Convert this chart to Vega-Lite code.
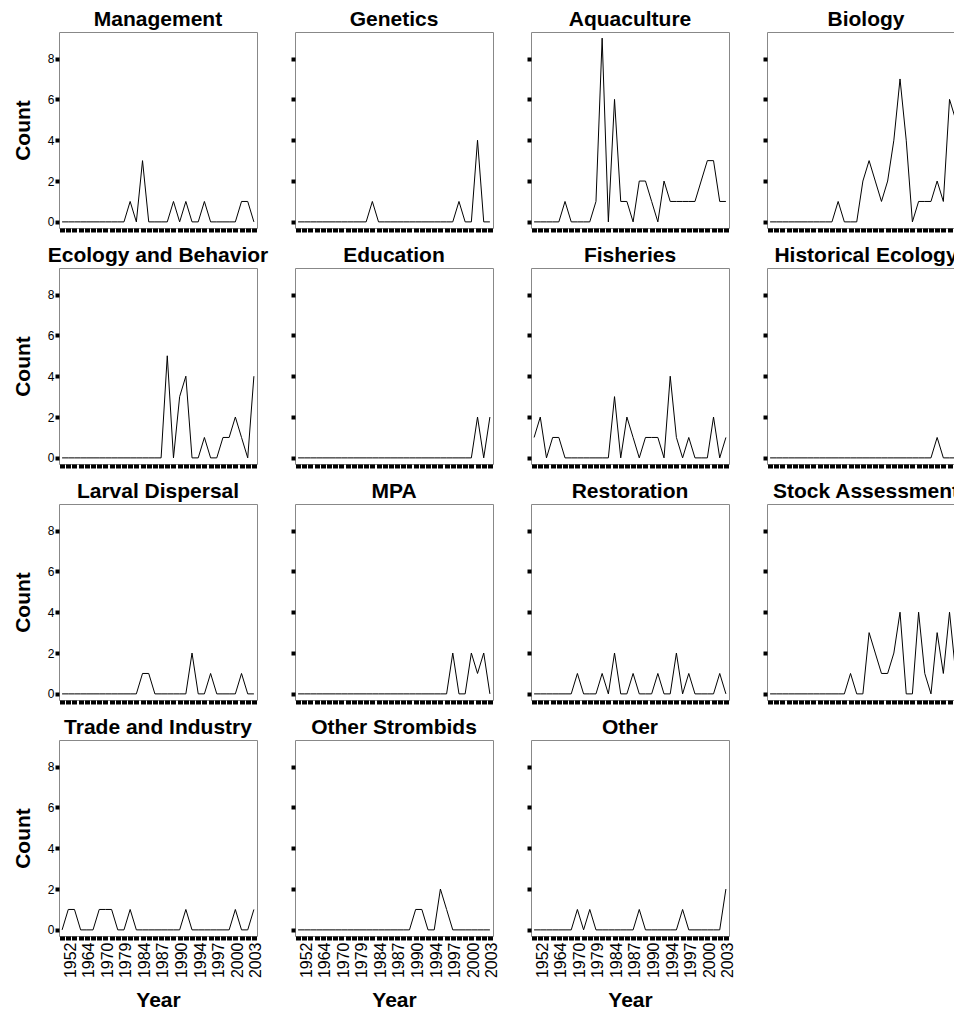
{
"$schema": "https://vega.github.io/schema/vega-lite/v6.json",
"padding": {"left": 11, "top": 8, "right": 0, "bottom": 0},
"background": "white",
"config": {
  "font": "Liberation Sans",
  "view": {"stroke": "#888888", "strokeWidth": 1},
  "title": {"font": "Liberation Sans", "fontSize": 21, "fontWeight": "bold", "color": "black", "offset": 2, "anchor": "middle"},
  "axisX": {"domain": false, "grid": false, "ticks": true, "tickColor": "black", "tickSize": 4, "tickWidth": 5, "labels": false, "labelAngle": -90, "labelBaseline": "top", "labelFont": "Liberation Sans", "labelFontSize": 16, "labelColor": "black", "labelPadding": 2, "titleFont": "Liberation Sans", "titleFontSize": 21, "titleFontWeight": "bold", "titleColor": "black", "titlePadding": 12},
  "axisY": {"domain": false, "grid": false, "ticks": true, "tickColor": "black", "tickSize": 4, "tickWidth": 4, "labels": false, "labelFont": "Liberation Sans", "labelFontSize": 12, "labelColor": "black", "labelPadding": 1, "titleFont": "Liberation Sans", "titleFontSize": 21, "titleFontWeight": "bold", "titleColor": "black", "titlePadding": 14}
},
"datasets": {
"Management": [{"year":"1952","n":0},{"year":"1958","n":0},{"year":"1962","n":0},{"year":"1964","n":0},{"year":"1966","n":0},{"year":"1968","n":0},{"year":"1970","n":0},{"year":"1972","n":0},{"year":"1976","n":0},{"year":"1979","n":0},{"year":"1981","n":0},{"year":"1983","n":1},{"year":"1984","n":0},{"year":"1985","n":3},{"year":"1986","n":0},{"year":"1987","n":0},{"year":"1988","n":0},{"year":"1989","n":0},{"year":"1990","n":1},{"year":"1991","n":0},{"year":"1993","n":1},{"year":"1994","n":0},{"year":"1995","n":0},{"year":"1996","n":1},{"year":"1997","n":0},{"year":"1998","n":0},{"year":"1999","n":0},{"year":"2000","n":0},{"year":"2001","n":0},{"year":"2002","n":1},{"year":"2003","n":1},{"year":"2004","n":0}],
"Genetics": [{"year":"1952","n":0},{"year":"1958","n":0},{"year":"1962","n":0},{"year":"1964","n":0},{"year":"1966","n":0},{"year":"1968","n":0},{"year":"1970","n":0},{"year":"1972","n":0},{"year":"1976","n":0},{"year":"1979","n":0},{"year":"1981","n":0},{"year":"1983","n":0},{"year":"1984","n":1},{"year":"1985","n":0},{"year":"1986","n":0},{"year":"1987","n":0},{"year":"1988","n":0},{"year":"1989","n":0},{"year":"1990","n":0},{"year":"1991","n":0},{"year":"1993","n":0},{"year":"1994","n":0},{"year":"1995","n":0},{"year":"1996","n":0},{"year":"1997","n":0},{"year":"1998","n":0},{"year":"1999","n":1},{"year":"2000","n":0},{"year":"2001","n":0},{"year":"2002","n":4},{"year":"2003","n":0},{"year":"2004","n":0}],
"Aquaculture": [{"year":"1952","n":0},{"year":"1958","n":0},{"year":"1962","n":0},{"year":"1964","n":0},{"year":"1966","n":0},{"year":"1968","n":1},{"year":"1970","n":0},{"year":"1972","n":0},{"year":"1976","n":0},{"year":"1979","n":0},{"year":"1981","n":1},{"year":"1983","n":9},{"year":"1984","n":0},{"year":"1985","n":6},{"year":"1986","n":1},{"year":"1987","n":1},{"year":"1988","n":0},{"year":"1989","n":2},{"year":"1990","n":2},{"year":"1991","n":1},{"year":"1993","n":0},{"year":"1994","n":2},{"year":"1995","n":1},{"year":"1996","n":1},{"year":"1997","n":1},{"year":"1998","n":1},{"year":"1999","n":1},{"year":"2000","n":2},{"year":"2001","n":3},{"year":"2002","n":3},{"year":"2003","n":1},{"year":"2004","n":1}],
"Biology": [{"year":"1952","n":0},{"year":"1958","n":0},{"year":"1962","n":0},{"year":"1964","n":0},{"year":"1966","n":0},{"year":"1968","n":0},{"year":"1970","n":0},{"year":"1972","n":0},{"year":"1976","n":0},{"year":"1979","n":0},{"year":"1981","n":0},{"year":"1983","n":1},{"year":"1984","n":0},{"year":"1985","n":0},{"year":"1986","n":0},{"year":"1987","n":2},{"year":"1988","n":3},{"year":"1989","n":2},{"year":"1990","n":1},{"year":"1991","n":2},{"year":"1993","n":4},{"year":"1994","n":7},{"year":"1995","n":4},{"year":"1996","n":0},{"year":"1997","n":1},{"year":"1998","n":1},{"year":"1999","n":1},{"year":"2000","n":2},{"year":"2001","n":1},{"year":"2002","n":6},{"year":"2003","n":5},{"year":"2004","n":3}],
"Ecology": [{"year":"1952","n":0},{"year":"1958","n":0},{"year":"1962","n":0},{"year":"1964","n":0},{"year":"1966","n":0},{"year":"1968","n":0},{"year":"1970","n":0},{"year":"1972","n":0},{"year":"1976","n":0},{"year":"1979","n":0},{"year":"1981","n":0},{"year":"1983","n":0},{"year":"1984","n":0},{"year":"1985","n":0},{"year":"1986","n":0},{"year":"1987","n":0},{"year":"1988","n":0},{"year":"1989","n":5},{"year":"1990","n":0},{"year":"1991","n":3},{"year":"1993","n":4},{"year":"1994","n":0},{"year":"1995","n":0},{"year":"1996","n":1},{"year":"1997","n":0},{"year":"1998","n":0},{"year":"1999","n":1},{"year":"2000","n":1},{"year":"2001","n":2},{"year":"2002","n":1},{"year":"2003","n":0},{"year":"2004","n":4}],
"Education": [{"year":"1952","n":0},{"year":"1958","n":0},{"year":"1962","n":0},{"year":"1964","n":0},{"year":"1966","n":0},{"year":"1968","n":0},{"year":"1970","n":0},{"year":"1972","n":0},{"year":"1976","n":0},{"year":"1979","n":0},{"year":"1981","n":0},{"year":"1983","n":0},{"year":"1984","n":0},{"year":"1985","n":0},{"year":"1986","n":0},{"year":"1987","n":0},{"year":"1988","n":0},{"year":"1989","n":0},{"year":"1990","n":0},{"year":"1991","n":0},{"year":"1993","n":0},{"year":"1994","n":0},{"year":"1995","n":0},{"year":"1996","n":0},{"year":"1997","n":0},{"year":"1998","n":0},{"year":"1999","n":0},{"year":"2000","n":0},{"year":"2001","n":0},{"year":"2002","n":2},{"year":"2003","n":0},{"year":"2004","n":2}],
"Fisheries": [{"year":"1952","n":1},{"year":"1958","n":2},{"year":"1962","n":0},{"year":"1964","n":1},{"year":"1966","n":1},{"year":"1968","n":0},{"year":"1970","n":0},{"year":"1972","n":0},{"year":"1976","n":0},{"year":"1979","n":0},{"year":"1981","n":0},{"year":"1983","n":0},{"year":"1984","n":0},{"year":"1985","n":3},{"year":"1986","n":0},{"year":"1987","n":2},{"year":"1988","n":1},{"year":"1989","n":0},{"year":"1990","n":1},{"year":"1991","n":1},{"year":"1993","n":1},{"year":"1994","n":0},{"year":"1995","n":4},{"year":"1996","n":1},{"year":"1997","n":0},{"year":"1998","n":1},{"year":"1999","n":0},{"year":"2000","n":0},{"year":"2001","n":0},{"year":"2002","n":2},{"year":"2003","n":0},{"year":"2004","n":1}],
"Historical": [{"year":"1952","n":0},{"year":"1958","n":0},{"year":"1962","n":0},{"year":"1964","n":0},{"year":"1966","n":0},{"year":"1968","n":0},{"year":"1970","n":0},{"year":"1972","n":0},{"year":"1976","n":0},{"year":"1979","n":0},{"year":"1981","n":0},{"year":"1983","n":0},{"year":"1984","n":0},{"year":"1985","n":0},{"year":"1986","n":0},{"year":"1987","n":0},{"year":"1988","n":0},{"year":"1989","n":0},{"year":"1990","n":0},{"year":"1991","n":0},{"year":"1993","n":0},{"year":"1994","n":0},{"year":"1995","n":0},{"year":"1996","n":0},{"year":"1997","n":0},{"year":"1998","n":0},{"year":"1999","n":0},{"year":"2000","n":1},{"year":"2001","n":0},{"year":"2002","n":0},{"year":"2003","n":0},{"year":"2004","n":0}],
"Larval": [{"year":"1952","n":0},{"year":"1958","n":0},{"year":"1962","n":0},{"year":"1964","n":0},{"year":"1966","n":0},{"year":"1968","n":0},{"year":"1970","n":0},{"year":"1972","n":0},{"year":"1976","n":0},{"year":"1979","n":0},{"year":"1981","n":0},{"year":"1983","n":0},{"year":"1984","n":0},{"year":"1985","n":1},{"year":"1986","n":1},{"year":"1987","n":0},{"year":"1988","n":0},{"year":"1989","n":0},{"year":"1990","n":0},{"year":"1991","n":0},{"year":"1993","n":0},{"year":"1994","n":2},{"year":"1995","n":0},{"year":"1996","n":0},{"year":"1997","n":1},{"year":"1998","n":0},{"year":"1999","n":0},{"year":"2000","n":0},{"year":"2001","n":0},{"year":"2002","n":1},{"year":"2003","n":0},{"year":"2004","n":0}],
"MPA": [{"year":"1952","n":0},{"year":"1958","n":0},{"year":"1962","n":0},{"year":"1964","n":0},{"year":"1966","n":0},{"year":"1968","n":0},{"year":"1970","n":0},{"year":"1972","n":0},{"year":"1976","n":0},{"year":"1979","n":0},{"year":"1981","n":0},{"year":"1983","n":0},{"year":"1984","n":0},{"year":"1985","n":0},{"year":"1986","n":0},{"year":"1987","n":0},{"year":"1988","n":0},{"year":"1989","n":0},{"year":"1990","n":0},{"year":"1991","n":0},{"year":"1993","n":0},{"year":"1994","n":0},{"year":"1995","n":0},{"year":"1996","n":0},{"year":"1997","n":0},{"year":"1998","n":2},{"year":"1999","n":0},{"year":"2000","n":0},{"year":"2001","n":2},{"year":"2002","n":1},{"year":"2003","n":2},{"year":"2004","n":0}],
"Restoration": [{"year":"1952","n":0},{"year":"1958","n":0},{"year":"1962","n":0},{"year":"1964","n":0},{"year":"1966","n":0},{"year":"1968","n":0},{"year":"1970","n":0},{"year":"1972","n":1},{"year":"1976","n":0},{"year":"1979","n":0},{"year":"1981","n":0},{"year":"1983","n":1},{"year":"1984","n":0},{"year":"1985","n":2},{"year":"1986","n":0},{"year":"1987","n":0},{"year":"1988","n":1},{"year":"1989","n":0},{"year":"1990","n":0},{"year":"1991","n":0},{"year":"1993","n":1},{"year":"1994","n":0},{"year":"1995","n":0},{"year":"1996","n":2},{"year":"1997","n":0},{"year":"1998","n":1},{"year":"1999","n":0},{"year":"2000","n":0},{"year":"2001","n":0},{"year":"2002","n":0},{"year":"2003","n":1},{"year":"2004","n":0}],
"Stock": [{"year":"1952","n":0},{"year":"1958","n":0},{"year":"1962","n":0},{"year":"1964","n":0},{"year":"1966","n":0},{"year":"1968","n":0},{"year":"1970","n":0},{"year":"1972","n":0},{"year":"1976","n":0},{"year":"1979","n":0},{"year":"1981","n":0},{"year":"1983","n":0},{"year":"1984","n":0},{"year":"1985","n":1},{"year":"1986","n":0},{"year":"1987","n":0},{"year":"1988","n":3},{"year":"1989","n":2},{"year":"1990","n":1},{"year":"1991","n":1},{"year":"1993","n":2},{"year":"1994","n":4},{"year":"1995","n":0},{"year":"1996","n":0},{"year":"1997","n":4},{"year":"1998","n":1},{"year":"1999","n":0},{"year":"2000","n":3},{"year":"2001","n":1},{"year":"2002","n":4},{"year":"2003","n":1},{"year":"2004","n":0}],
"Trade": [{"year":"1952","n":0},{"year":"1958","n":1},{"year":"1962","n":1},{"year":"1964","n":0},{"year":"1966","n":0},{"year":"1968","n":0},{"year":"1970","n":1},{"year":"1972","n":1},{"year":"1976","n":1},{"year":"1979","n":0},{"year":"1981","n":0},{"year":"1983","n":1},{"year":"1984","n":0},{"year":"1985","n":0},{"year":"1986","n":0},{"year":"1987","n":0},{"year":"1988","n":0},{"year":"1989","n":0},{"year":"1990","n":0},{"year":"1991","n":0},{"year":"1993","n":1},{"year":"1994","n":0},{"year":"1995","n":0},{"year":"1996","n":0},{"year":"1997","n":0},{"year":"1998","n":0},{"year":"1999","n":0},{"year":"2000","n":0},{"year":"2001","n":1},{"year":"2002","n":0},{"year":"2003","n":0},{"year":"2004","n":1}],
"Strombids": [{"year":"1952","n":0},{"year":"1958","n":0},{"year":"1962","n":0},{"year":"1964","n":0},{"year":"1966","n":0},{"year":"1968","n":0},{"year":"1970","n":0},{"year":"1972","n":0},{"year":"1976","n":0},{"year":"1979","n":0},{"year":"1981","n":0},{"year":"1983","n":0},{"year":"1984","n":0},{"year":"1985","n":0},{"year":"1986","n":0},{"year":"1987","n":0},{"year":"1988","n":0},{"year":"1989","n":0},{"year":"1990","n":0},{"year":"1991","n":1},{"year":"1993","n":1},{"year":"1994","n":0},{"year":"1995","n":0},{"year":"1996","n":2},{"year":"1997","n":1},{"year":"1998","n":0},{"year":"1999","n":0},{"year":"2000","n":0},{"year":"2001","n":0},{"year":"2002","n":0},{"year":"2003","n":0},{"year":"2004","n":0}],
"Other": [{"year":"1952","n":0},{"year":"1958","n":0},{"year":"1962","n":0},{"year":"1964","n":0},{"year":"1966","n":0},{"year":"1968","n":0},{"year":"1970","n":0},{"year":"1972","n":1},{"year":"1976","n":0},{"year":"1979","n":1},{"year":"1981","n":0},{"year":"1983","n":0},{"year":"1984","n":0},{"year":"1985","n":0},{"year":"1986","n":0},{"year":"1987","n":0},{"year":"1988","n":0},{"year":"1989","n":1},{"year":"1990","n":0},{"year":"1991","n":0},{"year":"1993","n":0},{"year":"1994","n":0},{"year":"1995","n":0},{"year":"1996","n":0},{"year":"1997","n":1},{"year":"1998","n":0},{"year":"1999","n":0},{"year":"2000","n":0},{"year":"2001","n":0},{"year":"2002","n":0},{"year":"2003","n":0},{"year":"2004","n":2}]
},
"columns": 4,
"bounds": "flush",
"spacing": {"row": 40, "column": 38},
"concat": [
{"title": "Management", "width": 198, "height": 196, "data": {"name": "Management"}, "mark": {"type": "line", "color": "black", "strokeWidth": 1},
 "encoding": {"x": {"field": "year", "type": "ordinal", "scale": {"type": "point", "padding": 0.5}, "axis": {"title": null}},
  "y": {"field": "n", "type": "quantitative", "scale": {"domain": [-0.3, 9.3], "nice": false, "zero": false}, "axis": {"title": "Count", "labels": true, "values": [0, 2, 4, 6, 8]}}}},
{"title": "Genetics", "width": 198, "height": 196, "data": {"name": "Genetics"}, "mark": {"type": "line", "color": "black", "strokeWidth": 1},
 "encoding": {"x": {"field": "year", "type": "ordinal", "scale": {"type": "point", "padding": 0.5}, "axis": {"title": null}},
  "y": {"field": "n", "type": "quantitative", "scale": {"domain": [-0.3, 9.3], "nice": false, "zero": false}, "axis": {"title": null, "values": [0, 2, 4, 6, 8]}}}},
{"title": "Aquaculture", "width": 198, "height": 196, "data": {"name": "Aquaculture"}, "mark": {"type": "line", "color": "black", "strokeWidth": 1},
 "encoding": {"x": {"field": "year", "type": "ordinal", "scale": {"type": "point", "padding": 0.5}, "axis": {"title": null}},
  "y": {"field": "n", "type": "quantitative", "scale": {"domain": [-0.3, 9.3], "nice": false, "zero": false}, "axis": {"title": null, "values": [0, 2, 4, 6, 8]}}}},
{"title": "Biology", "width": 198, "height": 196, "data": {"name": "Biology"}, "mark": {"type": "line", "color": "black", "strokeWidth": 1},
 "encoding": {"x": {"field": "year", "type": "ordinal", "scale": {"type": "point", "padding": 0.5}, "axis": {"title": null}},
  "y": {"field": "n", "type": "quantitative", "scale": {"domain": [-0.3, 9.3], "nice": false, "zero": false}, "axis": {"title": null, "values": [0, 2, 4, 6, 8]}}}},
{"title": "Ecology and Behavior", "width": 198, "height": 196, "data": {"name": "Ecology"}, "mark": {"type": "line", "color": "black", "strokeWidth": 1},
 "encoding": {"x": {"field": "year", "type": "ordinal", "scale": {"type": "point", "padding": 0.5}, "axis": {"title": null}},
  "y": {"field": "n", "type": "quantitative", "scale": {"domain": [-0.3, 9.3], "nice": false, "zero": false}, "axis": {"title": "Count", "labels": true, "values": [0, 2, 4, 6, 8]}}}},
{"title": "Education", "width": 198, "height": 196, "data": {"name": "Education"}, "mark": {"type": "line", "color": "black", "strokeWidth": 1},
 "encoding": {"x": {"field": "year", "type": "ordinal", "scale": {"type": "point", "padding": 0.5}, "axis": {"title": null}},
  "y": {"field": "n", "type": "quantitative", "scale": {"domain": [-0.3, 9.3], "nice": false, "zero": false}, "axis": {"title": null, "values": [0, 2, 4, 6, 8]}}}},
{"title": "Fisheries", "width": 198, "height": 196, "data": {"name": "Fisheries"}, "mark": {"type": "line", "color": "black", "strokeWidth": 1},
 "encoding": {"x": {"field": "year", "type": "ordinal", "scale": {"type": "point", "padding": 0.5}, "axis": {"title": null}},
  "y": {"field": "n", "type": "quantitative", "scale": {"domain": [-0.3, 9.3], "nice": false, "zero": false}, "axis": {"title": null, "values": [0, 2, 4, 6, 8]}}}},
{"title": "Historical Ecology", "width": 198, "height": 196, "data": {"name": "Historical"}, "mark": {"type": "line", "color": "black", "strokeWidth": 1},
 "encoding": {"x": {"field": "year", "type": "ordinal", "scale": {"type": "point", "padding": 0.5}, "axis": {"title": null}},
  "y": {"field": "n", "type": "quantitative", "scale": {"domain": [-0.3, 9.3], "nice": false, "zero": false}, "axis": {"title": null, "values": [0, 2, 4, 6, 8]}}}},
{"title": "Larval Dispersal", "width": 198, "height": 196, "data": {"name": "Larval"}, "mark": {"type": "line", "color": "black", "strokeWidth": 1},
 "encoding": {"x": {"field": "year", "type": "ordinal", "scale": {"type": "point", "padding": 0.5}, "axis": {"title": null}},
  "y": {"field": "n", "type": "quantitative", "scale": {"domain": [-0.3, 9.3], "nice": false, "zero": false}, "axis": {"title": "Count", "labels": true, "values": [0, 2, 4, 6, 8]}}}},
{"title": "MPA", "width": 198, "height": 196, "data": {"name": "MPA"}, "mark": {"type": "line", "color": "black", "strokeWidth": 1},
 "encoding": {"x": {"field": "year", "type": "ordinal", "scale": {"type": "point", "padding": 0.5}, "axis": {"title": null}},
  "y": {"field": "n", "type": "quantitative", "scale": {"domain": [-0.3, 9.3], "nice": false, "zero": false}, "axis": {"title": null, "values": [0, 2, 4, 6, 8]}}}},
{"title": "Restoration", "width": 198, "height": 196, "data": {"name": "Restoration"}, "mark": {"type": "line", "color": "black", "strokeWidth": 1},
 "encoding": {"x": {"field": "year", "type": "ordinal", "scale": {"type": "point", "padding": 0.5}, "axis": {"title": null}},
  "y": {"field": "n", "type": "quantitative", "scale": {"domain": [-0.3, 9.3], "nice": false, "zero": false}, "axis": {"title": null, "values": [0, 2, 4, 6, 8]}}}},
{"title": "Stock Assessment", "width": 198, "height": 196, "data": {"name": "Stock"}, "mark": {"type": "line", "color": "black", "strokeWidth": 1},
 "encoding": {"x": {"field": "year", "type": "ordinal", "scale": {"type": "point", "padding": 0.5}, "axis": {"title": null}},
  "y": {"field": "n", "type": "quantitative", "scale": {"domain": [-0.3, 9.3], "nice": false, "zero": false}, "axis": {"title": null, "values": [0, 2, 4, 6, 8]}}}},
{"title": "Trade and Industry", "width": 198, "height": 196, "data": {"name": "Trade"}, "mark": {"type": "line", "color": "black", "strokeWidth": 1},
 "encoding": {"x": {"field": "year", "type": "ordinal", "scale": {"type": "point", "padding": 0.5}, "axis": {"title": "Year", "labels": true, "labelExpr": "indexof(['1952','1964','1970','1979','1984','1987','1990','1994','1997','2000','2003'], datum.label) >= 0 ? datum.label : ''"}},
  "y": {"field": "n", "type": "quantitative", "scale": {"domain": [-0.3, 9.3], "nice": false, "zero": false}, "axis": {"title": "Count", "labels": true, "values": [0, 2, 4, 6, 8]}}}},
{"title": "Other Strombids", "width": 198, "height": 196, "data": {"name": "Strombids"}, "mark": {"type": "line", "color": "black", "strokeWidth": 1},
 "encoding": {"x": {"field": "year", "type": "ordinal", "scale": {"type": "point", "padding": 0.5}, "axis": {"title": "Year", "labels": true, "labelExpr": "indexof(['1952','1964','1970','1979','1984','1987','1990','1994','1997','2000','2003'], datum.label) >= 0 ? datum.label : ''"}},
  "y": {"field": "n", "type": "quantitative", "scale": {"domain": [-0.3, 9.3], "nice": false, "zero": false}, "axis": {"title": null, "values": [0, 2, 4, 6, 8]}}}},
{"title": "Other", "width": 198, "height": 196, "data": {"name": "Other"}, "mark": {"type": "line", "color": "black", "strokeWidth": 1},
 "encoding": {"x": {"field": "year", "type": "ordinal", "scale": {"type": "point", "padding": 0.5}, "axis": {"title": "Year", "labels": true, "labelExpr": "indexof(['1952','1964','1970','1979','1984','1987','1990','1994','1997','2000','2003'], datum.label) >= 0 ? datum.label : ''"}},
  "y": {"field": "n", "type": "quantitative", "scale": {"domain": [-0.3, 9.3], "nice": false, "zero": false}, "axis": {"title": null, "values": [0, 2, 4, 6, 8]}}}}
]
}
